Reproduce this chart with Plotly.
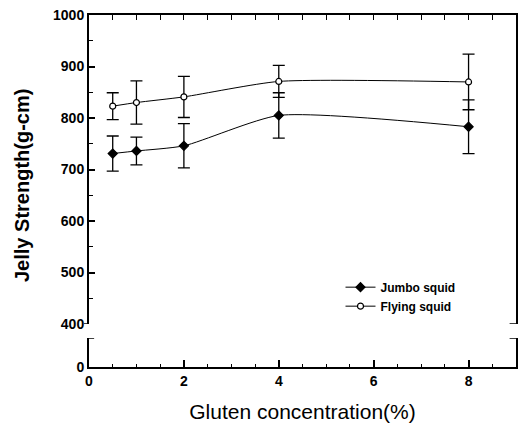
import plotly.graph_objects as go

gluten = [0.5, 1, 2, 4, 8]
jumbo = [731, 736, 746, 805, 783]
jumbo_err = [34, 27, 43, 44, 52]
flying = [823, 830, 841, 871, 870]
flying_err = [26, 42, 40, 31, 54]

y_ticks_top = [400, 500, 600, 700, 800, 900, 1000]
x_ticks = [0, 2, 4, 6, 8]

FONT = "Liberation Sans"
tickfont = dict(family=FONT, size=14, color="black", weight="bold")

fig = go.Figure()

def add_series(y, err, name, symbol, fill, size):
    fig.add_trace(go.Scatter(
        x=gluten, y=y, name=name, mode="lines+markers",
        line=dict(color="black", width=1, shape="spline", smoothing=0.6),
        marker=dict(symbol=symbol, size=size, color=fill,
                    line=dict(color="black", width=1.2)),
        error_y=dict(type="data", array=err, visible=True, color="black",
                     thickness=1.3, width=6),
        xaxis="x2", yaxis="y2",
    ))

add_series(jumbo, jumbo_err, "Jumbo squid", "diamond", "black", 7)
add_series(flying, flying_err, "Flying squid", "circle", "white", 6)

# invisible trace so the lower (broken) panel renders
fig.add_trace(go.Scatter(x=[0], y=[-100], mode="markers", showlegend=False,
                         hoverinfo="skip", marker=dict(opacity=0),
                         xaxis="x", yaxis="y"))

H_PLOT = 430 - 15 - 63
top_lo = (367 - 324) / H_PLOT
bot_hi = (367 - 338) / H_PLOT

fig.update_layout(
    width=518, height=430,
    margin=dict(l=89, r=2, t=15, b=63),
    paper_bgcolor="white", plot_bgcolor="white",
    showlegend=True,
    legend=dict(x=0.589, y=0.268, xanchor="left", yanchor="top",
                font=dict(family=FONT, size=12, color="black", weight="bold"),
                itemwidth=30, tracegroupgap=0, bgcolor="rgba(0,0,0,0)"),
    xaxis=dict(domain=[0, 1], anchor="y", range=[0, 9.0], tickvals=x_ticks,
               ticktext=[str(v) for v in x_ticks],
               ticks="inside", ticklen=7, tickwidth=1.5, tickcolor="black",
               minor=dict(dtick=0.5, tick0=0, ticks="inside", ticklen=3,
                          tickwidth=1, tickcolor="black"),
               showline=True, linecolor="black", linewidth=2, mirror=False,
               showgrid=False, zeroline=False, automargin=False,
               tickfont=tickfont,
               title=dict(text="Gluten concentration(%)",
                          font=dict(family=FONT, size=21, color="black"),
                          standoff=17)),
    xaxis2=dict(domain=[0, 1], anchor="y2", matches="x", side="top",
                range=[0, 9.0], showticklabels=False,
                ticks="inside", ticklen=5, tickwidth=1, tickcolor="black",
                dtick=0.5, tick0=0, automargin=False,
                showline=True, linecolor="black", linewidth=2,
                showgrid=False, zeroline=False),
    yaxis=dict(domain=[0, bot_hi], anchor="x", range=[0, 56],
               tickvals=[0], ticktext=["0"], ticks="",
               showline=True, linecolor="black", linewidth=2, mirror=True,
               showgrid=False, zeroline=False, automargin=False,
               tickfont=tickfont),
    yaxis2=dict(domain=[top_lo, 1], anchor="x2", range=[400, 1000],
                tickvals=y_ticks_top,
                ticks="inside", ticklen=6, tickwidth=1.5, tickcolor="black",
                minor=dict(dtick=50, tick0=0, ticks="inside", ticklen=4,
                           tickwidth=1, tickcolor="black"),
                showline=True, linecolor="black", linewidth=2, mirror=True,
                showgrid=False, zeroline=False, automargin=False,
                tickfont=tickfont),
)

fig.add_annotation(text="Jelly Strength(g-cm)", textangle=-90,
                   xref="paper", yref="paper", x=(22 - 89) / 427,
                   y=(367 - 186) / H_PLOT, showarrow=False,
                   xanchor="center", yanchor="middle",
                   font=dict(family=FONT, size=20, color="black", weight="bold"))

# axis-break hooks
hooks = [
    dict(x0=-0.012, x1=0, y0=400, y1=400, yref="y2"),
    dict(x0=0.985, x1=1, y0=400, y1=400, yref="y2"),
    dict(x0=0, x1=0.012, y0=56, y1=56, yref="y"),
    dict(x0=0.985, x1=1, y0=56, y1=56, yref="y"),
]
for h in hooks:
    fig.add_shape(type="line", xref="paper", line=dict(color="black", width=1.5), **h)

fig.write_html("out.html", config={"displayModeBar": False},
               post_script="document.body.style.margin='0';document.body.style.overflow='hidden';")
